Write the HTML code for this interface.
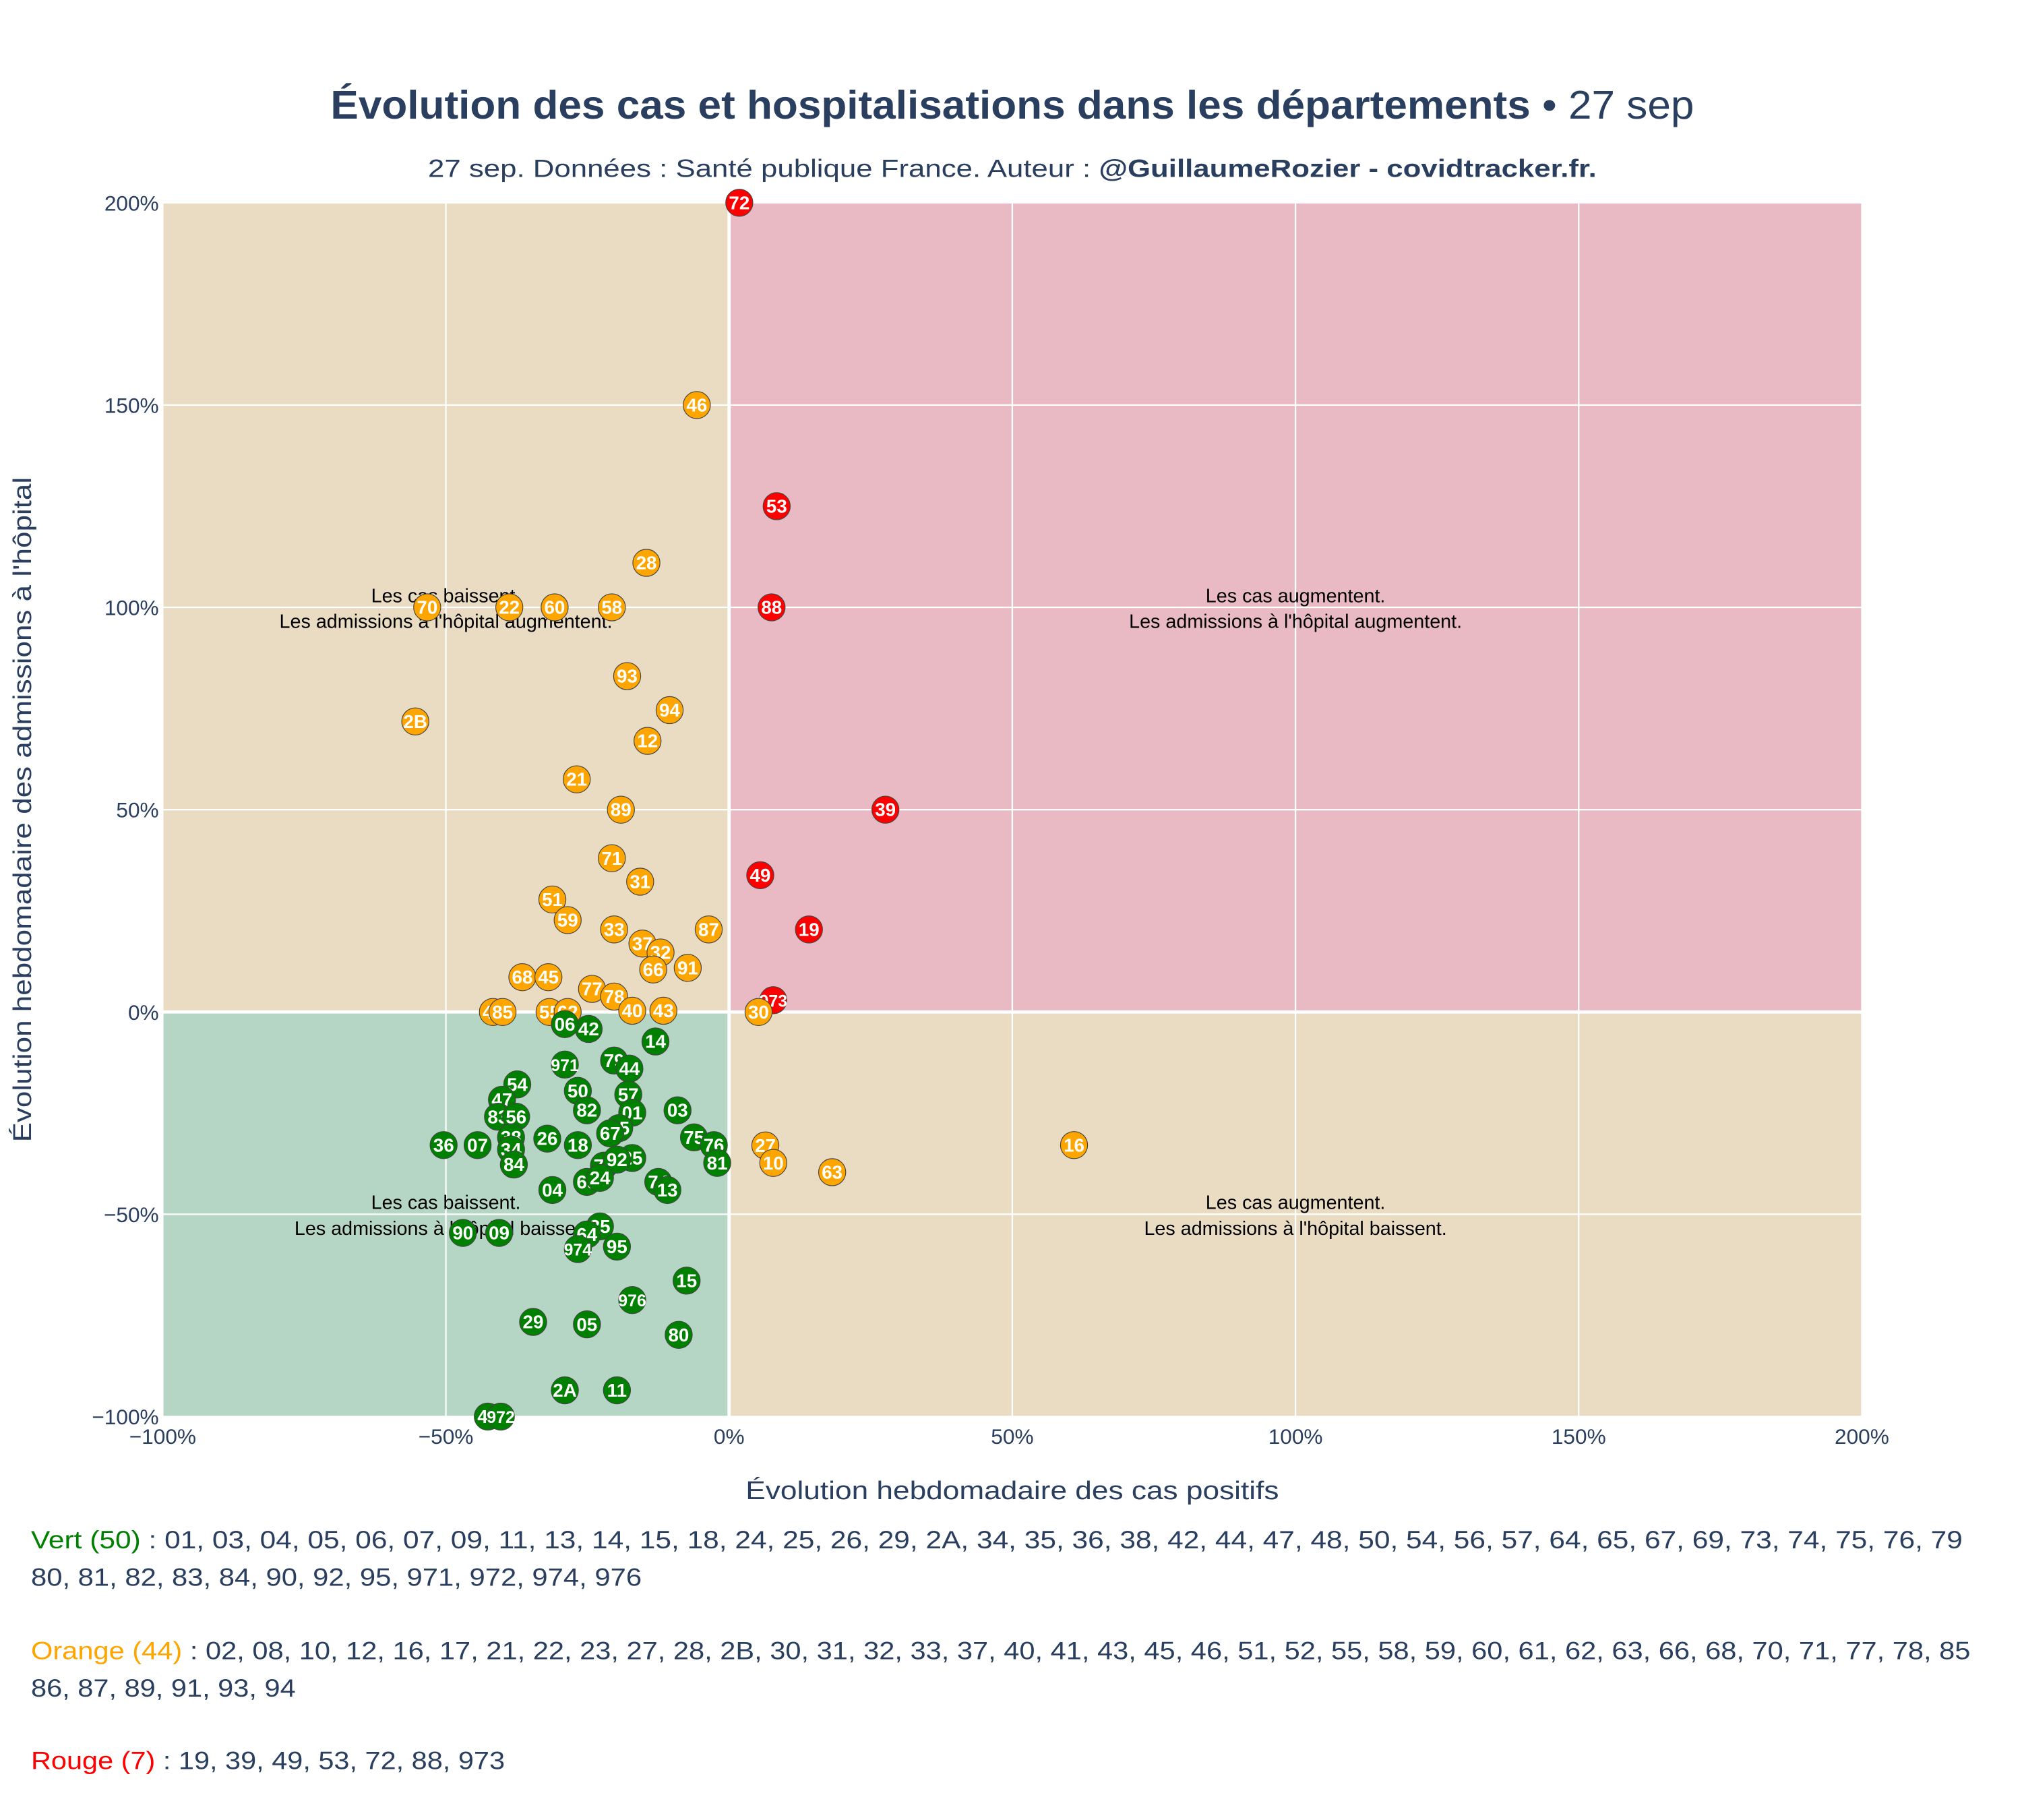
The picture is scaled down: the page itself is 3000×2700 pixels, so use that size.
<!DOCTYPE html>
<html><head><meta charset="utf-8">
<style>
html,body{margin:0;padding:0;background:#fff;}
svg{display:block;font-family:"Liberation Sans",sans-serif;}
</style></head>
<body>
<svg id="chart" width="3000" height="2700" viewBox="0 0 1566 1409.4" xmlns="http://www.w3.org/2000/svg">
<g id="bg"></g>
<g id="grid"></g>
<g id="ann"></g>
<g id="pts"></g>
<g id="axes"></g>
<text x="784" y="92" text-anchor="middle" font-size="31" fill="#2a3f5f" textLength="1056" lengthAdjust="spacingAndGlyphs"><tspan font-weight="bold">Évolution des cas et hospitalisations dans les départements</tspan> • 27 sep</text>
<text x="784" y="137" text-anchor="middle" font-size="19.5" fill="#2a3f5f" textLength="905" lengthAdjust="spacingAndGlyphs">27 sep. Données : Santé publique France. Auteur : <tspan font-weight="bold">@GuillaumeRozier - covidtracker.fr.</tspan></text>
<text x="784" y="1161" text-anchor="middle" font-size="20" fill="#2a3f5f" textLength="413" lengthAdjust="spacingAndGlyphs">Évolution hebdomadaire des cas positifs</text>
<text transform="translate(24,627) rotate(-90)" text-anchor="middle" font-size="20" fill="#2a3f5f" textLength="515" lengthAdjust="spacingAndGlyphs">Évolution hebdomadaire des admissions à l'hôpital</text>
<g font-size="19.5" fill="#2a3f5f">
<text x="24" y="1199" textLength="1496" lengthAdjust="spacingAndGlyphs"><tspan fill="#008000">Vert (50)</tspan> : 01, 03, 04, 05, 06, 07, 09, 11, 13, 14, 15, 18, 24, 25, 26, 29, 2A, 34, 35, 36, 38, 42, 44, 47, 48, 50, 54, 56, 57, 64, 65, 67, 69, 73, 74, 75, 76, 79</text>
<text x="24" y="1228" textLength="473" lengthAdjust="spacingAndGlyphs">80, 81, 82, 83, 84, 90, 92, 95, 971, 972, 974, 976</text>
<text x="24" y="1285" textLength="1502" lengthAdjust="spacingAndGlyphs"><tspan fill="#FFA500">Orange (44)</tspan> : 02, 08, 10, 12, 16, 17, 21, 22, 23, 27, 28, 2B, 30, 31, 32, 33, 37, 40, 41, 43, 45, 46, 51, 52, 55, 58, 59, 60, 61, 62, 63, 66, 68, 70, 71, 77, 78, 85</text>
<text x="24" y="1314" textLength="205" lengthAdjust="spacingAndGlyphs">86, 87, 89, 91, 93, 94</text>
<text x="24" y="1370" textLength="367" lengthAdjust="spacingAndGlyphs"><tspan fill="#FF0000">Rouge (7)</tspan> : 19, 39, 49, 53, 72, 88, 973</text>
</g>
</svg>
<script>
const labels=["72","46","53","28","88","70","22","60","58","93","94","2B","12","21","89","39","71","49","31","51","59","33","87","19","37","32","66","91","68","45","77","78","973","40","43","30","41","85","55","62","27","10","63","16",
"42","06","14","971","79","44","54","47","50","57","03","82","83","56","01","65","67","75","76","36","07","26","18","38","34","84","81","73","25","92","69","24","74","13","04","35","90","09","64","974","95","15","976","29","05","80","2A","11","48","972"];
const xs=[1.8,-5.7,8.4,-14.6,7.5,-53.3,-38.8,-30.8,-20.7,-18,-10.5,-55.4,-14.4,-26.9,-19.1,27.6,-20.7,5.5,-15.7,-31.2,-28.5,-20.3,-3.6,14.1,-15.3,-12.1,-13.4,-7.3,-36.5,-31.9,-24.2,-20.3,7.8,-17.1,-11.6,5.2,-41.7,-40,-31.7,-28.5,6.4,7.8,18.2,60.9,
-24.8,-29,-13,-29,-20.3,-17.6,-37.4,-40.1,-26.7,-17.8,-9.1,-25.1,-40.8,-37.6,-17.1,-19.4,-21,-6.2,-2.7,-50.4,-44.4,-32.1,-26.7,-38.5,-38.5,-38,-2.1,-22.1,-17.1,-19.8,-25.1,-22.8,-12.5,-10.9,-31.2,-22.8,-47,-40.6,-25.1,-26.7,-19.8,-7.5,-17.1,-34.6,-25.1,-8.9,-29,-19.8,-42.6,-40.3];
const ys=[200,150,125,111,100,100,100,100,100,83,74.6,71.8,67,57.5,50,50,38,33.8,32.2,27.8,22.7,20.4,20.4,20.4,16.9,14.7,10.5,10.9,8.6,8.6,5.7,3.8,2.9,0.3,0.3,0,0,0,0,0,-33,-37.3,-39.6,-32.9,
-4.2,-3,-7.3,-13,-12,-14,-17.9,-21.7,-19.5,-20.4,-24.3,-24.3,-25.9,-25.9,-24.9,-28.7,-30,-31,-32.9,-32.9,-32.9,-31.3,-32.9,-31,-34,-37.7,-37.3,-38,-36.1,-36.5,-42,-41,-42,-44,-44,-53,-54.6,-54.6,-55,-58.6,-58,-66.4,-71.2,-76.6,-77.2,-79.8,-93.5,-93.5,-100,-100];
const cats=["r","o","r","o","r","o","o","o","o","o","o","o","o","o","o","r","o","r","o","o","o","o","o","r","o","o","o","o","o","o","o","o","r","o","o","o","o","o","o","o","o","o","o","o"];
const xTicks=[-100,-50,0,50,100,150,200];
const yTicks=[-100,-50,0,50,100,150,200];
const NS="http://www.w3.org/2000/svg";
const X0=126,X1=1442,Y0=1097,Y1=157;
function sx(v){return X0+(v+100)/300*(X1-X0);}
function sy(v){return Y0-(v+100)/300*(Y0-Y1);}
function mk(tag,attrs,parent){const e=document.createElementNS(NS,tag);for(const k in attrs)e.setAttribute(k,attrs[k]);parent.appendChild(e);return e;}
const bg=document.getElementById('bg'),grid=document.getElementById('grid'),ann=document.getElementById('ann'),pts=document.getElementById('pts'),axes=document.getElementById('axes');
let r;
r=mk('rect',{x:X0,y:Y1,width:sx(0)-X0,height:sy(0)-Y1,fill:'#e9dcc2'},bg);

r=mk('rect',{x:sx(0),y:Y1,width:X1-sx(0),height:sy(0)-Y1,fill:'#e9bac3'},bg);

r=mk('rect',{x:X0,y:sy(0),width:sx(0)-X0,height:Y0-sy(0),fill:'#b5d6c4'},bg);

r=mk('rect',{x:sx(0),y:sy(0),width:X1-sx(0),height:Y0-sy(0),fill:'#e9dcc2'},bg);

xTicks.forEach(t=>{
  const l=mk('line',{x1:sx(t),x2:sx(t),y1:Y1,y2:Y0,stroke:'#fff','stroke-width':t===0?2.5:1.2},grid);
  
  const tx=mk('text',{x:sx(t),y:Y0+21,'text-anchor':'middle','font-size':16.5,fill:'#2a3f5f'},axes);
  tx.textContent=(t<0?'\u2212'+(-t):t)+'%';
  
});
yTicks.forEach(t=>{
  const l=mk('line',{x1:X0,x2:X1,y1:sy(t),y2:sy(t),stroke:'#fff','stroke-width':t===0?2.5:1.2},grid);
  
  const tx=mk('text',{x:X0-3,y:sy(t)+6,'text-anchor':'end','font-size':16.5,fill:'#2a3f5f'},axes);
  tx.textContent=(t<0?'\u2212'+(-t):t)+'%';
  
});
const notes=[[-50,100,"Les cas baissent.","Les admissions à l'hôpital augmentent."],[100,100,"Les cas augmentent.","Les admissions à l'hôpital augmentent."],[-50,-50,"Les cas baissent.","Les admissions à l'hôpital baissent."],[100,-50,"Les cas augmentent.","Les admissions à l'hôpital baissent."]];
notes.forEach(n=>{
  const t=mk('text',{x:sx(n[0]),y:sy(n[1])-4,'text-anchor':'middle','font-size':15,fill:'#000'},ann);
  t.textContent=n[2];
  const t2=mk('text',{x:sx(n[0]),y:sy(n[1])+16,'text-anchor':'middle','font-size':15,fill:'#000'},ann);
  t2.textContent=n[3];
});
const colors={g:'#008000',o:'#FFA500',r:'#FF0000'};
labels.forEach((lb,i)=>{
  const c=cats[i]||'g';
  const g=mk('g',{},pts);
  
  
  mk('circle',{cx:sx(xs[i]),cy:sy(ys[i]),r:10.5,fill:colors[c],stroke:'#444','stroke-width':0.6},g);
  const t=mk('text',{x:sx(xs[i]),y:sy(ys[i])+5,'text-anchor':'middle','font-size':lb.length>2?13:14.5,'font-weight':'bold',fill:'#fff'},g);
  t.textContent=lb;
});
</script>
</body></html>
